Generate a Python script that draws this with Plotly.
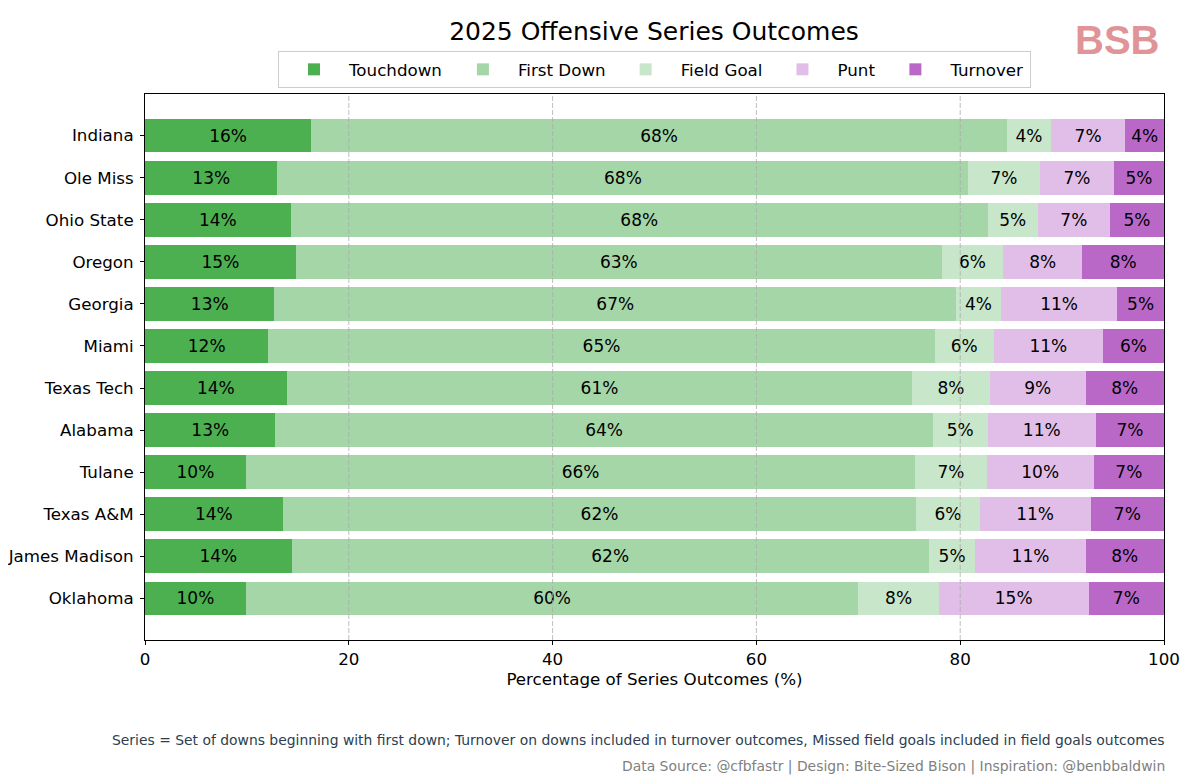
import plotly.graph_objects as go

teams = ["Indiana", "Ole Miss", "Ohio State", "Oregon", "Georgia", "Miami",
         "Texas Tech", "Alabama", "Tulane", "Texas A&M", "James Madison", "Oklahoma"]

touchdown = [16.3, 13.0, 14.3, 14.8, 12.7, 12.1, 13.9, 12.8, 9.9, 13.5, 14.4, 9.9]
first_down = [68.3, 67.8, 68.4, 63.4, 66.9, 65.4, 61.4, 64.5, 65.7, 62.2, 62.5, 60.1]
field_goal = [4.3, 7.0, 4.9, 6.0, 4.4, 5.8, 7.6, 5.4, 7.0, 6.2, 4.6, 7.9]
punt = [7.3, 7.3, 7.1, 7.8, 11.4, 10.7, 9.4, 10.6, 10.5, 10.9, 10.8, 14.7]
turnover = [3.8, 4.9, 5.3, 8.0, 4.6, 6.0, 7.7, 6.7, 6.9, 7.2, 7.7, 7.4]

x_ticks = [0, 20, 40, 60, 80, 100]

series = [
    ("Touchdown", touchdown, "#4caf50"),
    ("First Down", first_down, "#a5d6a7"),
    ("Field Goal", field_goal, "#c8e6c9"),
    ("Punt", punt, "#e1bee7"),
    ("Turnover", turnover, "#ba68c8"),
]

FONT = "DejaVu Sans"
W, H = 1181, 775  # page body has an 8px offset

fig = go.Figure()
for name, vals, color in series:
    fig.add_trace(go.Bar(
        y=teams, x=vals, name=name, orientation="h",
        marker=dict(color=color, line=dict(width=0)),
        text=[f"{v:.0f}%" for v in vals],
        textposition="inside", insidetextanchor="middle",
        textfont=dict(color="black", size=17, family=FONT),
        constraintext="none",
    ))

fig.update_layout(
    barmode="stack", bargap=0.2,
    width=W, height=H,
    margin=dict(l=137, r=25, t=86, b=143),
    paper_bgcolor="white", plot_bgcolor="white",
    font=dict(family=FONT, color="black", size=16.7),
    uniformtext=dict(minsize=17, mode="show"),
    title=dict(text="2025 Offensive Series Outcomes", x=(654 - 8) / W, xanchor="center",
               y=1 - 23 / H, yanchor="middle", yref="container",
               font=dict(size=25, family=FONT, color="black")),
    legend=dict(orientation="h", x=0.5, xanchor="center", y=1.011, yanchor="bottom",
                bordercolor="#cccccc", borderwidth=1, font=dict(size=16.7, family=FONT),
                traceorder="normal", itemclick=False, itemwidth=60),
    showlegend=True,
)

fig.update_xaxes(
    range=[0, 100], tickvals=x_ticks,
    showgrid=False,
    showline=True, linecolor="black", linewidth=1, mirror=True,
    ticks="outside", ticklen=4, tickcolor="black",
    tickfont=dict(size=16.7, family=FONT),
    title=dict(text="Percentage of Series Outcomes (%)", font=dict(size=16.7, family=FONT), standoff=3),
    zeroline=False, automargin=False,
)
fig.update_yaxes(
    categoryorder="array", categoryarray=teams,
    range=[len(teams) - 1 + 0.99, -0.99],
    showgrid=False, showline=True, linecolor="black", linewidth=1, mirror=True,
    ticks="outside", ticklen=4, tickcolor="black",
    tickfont=dict(size=16.7, family=FONT),
    automargin=False, ticklabelstandoff=3,
)

# dashed vertical grid drawn above the bars (as in the reference)
for xv in x_ticks[1:-1]:
    fig.add_shape(type="line", xref="x", yref="paper", x0=xv, x1=xv, y0=0, y1=1,
                  layer="above", line=dict(color="rgba(170,170,170,0.75)", width=1, dash="5px,2px"))

fig.add_annotation(
    text="Series = Set of downs beginning with first down; Turnover on downs included in turnover outcomes, Missed field goals included in field goals outcomes",
    xref="paper", yref="paper", x=1, y=(640 - 740) / 546, xanchor="right", yanchor="middle",
    xshift=3, showarrow=False, font=dict(size=13.9, family=FONT, color="#2c3e50"),
)
fig.add_annotation(
    text="Data Source: @cfbfastr | Design: Bite-Sized Bison | Inspiration: @benbbaldwin",
    xref="paper", yref="paper", x=1, y=(640 - 766) / 546, xanchor="right", yanchor="middle",
    xshift=3, showarrow=False, font=dict(size=13.9, family=FONT, color="#808080"),
)
fig.add_annotation(
    text="<b>BSB</b>",
    xref="paper", yref="paper", x=(1117 - 145) / 1019, y=(640 - 40) / 546,
    xanchor="center", yanchor="middle", showarrow=False,
    font=dict(size=40, family="Liberation Sans", color="#e09497"),
)

fig.write_html("out.html")
